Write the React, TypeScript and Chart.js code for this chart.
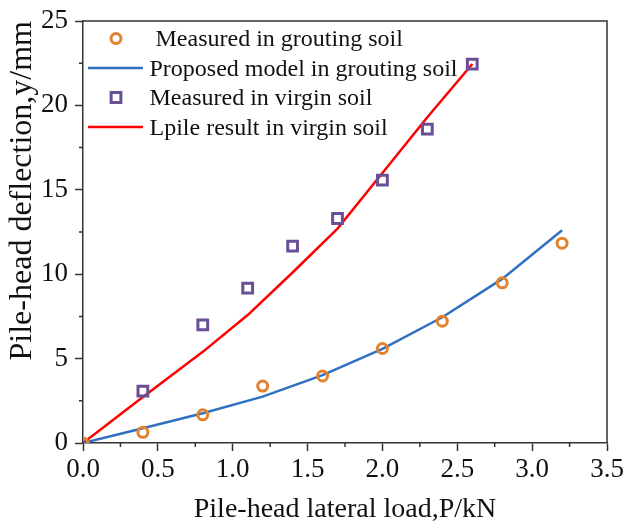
import React, { useEffect, useRef } from 'react';
import { Chart, registerables } from 'chart.js';

Chart.register(...registerables);

// ---- data ----
const groutLoad = [0, 0.4, 0.8, 1.2, 1.6, 2.0, 2.4, 2.8, 3.2];
const groutMeasured = [0, 0.63, 1.67, 3.37, 3.97, 5.6, 7.22, 9.49, 11.84];
const groutModel = [0, 0.87, 1.76, 2.75, 4.02, 5.57, 7.45, 9.72, 12.6];
const virginLoad = [0.4, 0.8, 1.1, 1.4, 1.7, 2.0, 2.3, 2.6];
const virginMeasured = [3.07, 7.0, 9.18, 11.66, 13.3, 15.58, 18.6, 22.45];
const lpileLoad = [0, 0.4, 0.8, 1.1, 1.4, 1.7, 2.0, 2.3, 2.6];
const lpileResult = [0, 2.72, 5.4, 7.58, 10.1, 12.7, 16.0, 19.3, 22.45];
const seriesLabels = [
  ' Measured in grouting soil',
  'Proposed model in grouting soil',
  'Measured in virgin soil',
  'Lpile result in virgin soil',
];
const xMinorTicks = [0.25, 0.75, 1.25, 1.75, 2.25, 2.75, 3.25];
const yMinorTicks = [2.5, 7.5, 12.5, 17.5, 22.5];
const xTitle = 'Pile-head lateral load,P/kN';
const yTitle = 'Pile-head deflection,y/mm';

const FONT = '"Liberation Serif", "Times New Roman", serif';
const AXIS = '#333333';
const ORANGE = '#E0822F';
const BLUE = '#3070C0';
const PURPLE = '#6A4E96';
const RED = '#FF0000';

const pts = (xs: number[], ys: number[]) => xs.map((x, i) => ({ x, y: ys[i] }));

const framePlugin = {
  id: 'frameAndMinor',
  afterDraw(chart: any) {
    const { ctx, chartArea } = chart;
    const { left, right, top, bottom } = chartArea;
    const xs = chart.scales.x;
    const ys = chart.scales.y;
    ctx.save();
    ctx.strokeStyle = AXIS;
    ctx.lineWidth = 1.5;
    ctx.beginPath();
    ctx.moveTo(left, top);
    ctx.lineTo(right, top);
    ctx.lineTo(right, bottom);
    ctx.stroke();
    ctx.beginPath();
    for (const v of xMinorTicks) {
      const px = xs.getPixelForValue(v);
      ctx.moveTo(px, bottom);
      ctx.lineTo(px, bottom + 4);
    }
    for (const v of yMinorTicks) {
      const py = ys.getPixelForValue(v);
      ctx.moveTo(left, py);
      ctx.lineTo(left - 4, py);
    }
    ctx.stroke();
    ctx.restore();
  },
};

const legendPlugin = {
  id: 'insideLegend',
  afterDraw(chart: any) {
    const { ctx, chartArea } = chart;
    const { left, top } = chartArea;
    ctx.save();
    chart.data.datasets.forEach((ds: any, i: number) => {
      const cy = top + 17.5 + i * 29.5;
      const mx = left + 33;
      if (ds.showLine === false) {
        ctx.strokeStyle = ds.pointBorderColor;
        ctx.lineWidth = ds.pointBorderWidth;
        ctx.beginPath();
        if (ds.pointStyle === 'rect') {
          const s = Math.SQRT1_2 * ds.pointRadius;
          ctx.rect(mx - s, cy - s, 2 * s, 2 * s);
        } else {
          ctx.arc(mx, cy, ds.pointRadius, 0, Math.PI * 2);
        }
        ctx.stroke();
      } else {
        ctx.strokeStyle = ds.borderColor;
        ctx.lineWidth = ds.borderWidth;
        ctx.beginPath();
        ctx.moveTo(left + 5, cy);
        ctx.lineTo(left + 60, cy);
        ctx.stroke();
      }
      ctx.fillStyle = '#111';
      ctx.font = `24px ${FONT}`;
      ctx.textAlign = 'left';
      ctx.textBaseline = 'alphabetic';
      ctx.fillText(ds.label, left + 66.5, cy + 7.5);
    });
    ctx.restore();
  },
};

export default function App() {
  const ref = useRef<HTMLCanvasElement | null>(null);
  useEffect(() => {
    document.body.style.margin = '0';
    if (!ref.current) return;
    const chart = new Chart(ref.current, {
      type: 'line',
      data: {
        datasets: [
          {
            label: seriesLabels[0],
            data: pts(groutLoad, groutMeasured),
            showLine: false,
            pointStyle: 'circle',
            pointRadius: 5,
            pointBorderWidth: 3,
            pointBorderColor: ORANGE,
            pointBackgroundColor: 'rgba(0,0,0,0)',
            borderColor: ORANGE,
          },
          {
            label: seriesLabels[1],
            data: pts(groutLoad, groutModel),
            borderColor: BLUE,
            borderWidth: 2.5,
            pointRadius: 0,
            tension: 0,
          },
          {
            label: seriesLabels[2],
            data: pts(virginLoad, virginMeasured),
            showLine: false,
            pointStyle: 'rect',
            pointRadius: 6.9,
            pointBorderWidth: 3,
            pointBorderColor: PURPLE,
            pointBackgroundColor: 'rgba(0,0,0,0)',
            borderColor: PURPLE,
          },
          {
            label: seriesLabels[3],
            data: pts(lpileLoad, lpileResult),
            borderColor: RED,
            borderWidth: 2.5,
            pointRadius: 0,
            tension: 0,
          },
        ] as any,
      },
      options: {
        responsive: false,
        animation: false,
        layout: { padding: { top: 21, right: 19, left: 0, bottom: 0 } },
        plugins: { legend: { display: false }, tooltip: { enabled: false } },
        scales: {
          x: {
            type: 'linear',
            min: 0,
            max: 3.5,
            ticks: {
              stepSize: 0.5,
              callback: (v: any) => Number(v).toFixed(1),
              font: { family: FONT, size: 27 },
              color: '#111',
              padding: 3,
              maxRotation: 0,
            },
            grid: {
              display: true,
              drawOnChartArea: false,
              drawTicks: true,
              tickLength: 8,
              tickWidth: 1.5,
              tickColor: AXIS,
            },
            border: { display: true, color: AXIS, width: 1.5 },
            title: {
              display: true,
              text: xTitle,
              font: { family: FONT, size: 28 },
              color: '#111',
              padding: { top: 0, bottom: 2 },
            },
            afterFit: (s: any) => {
              s.height = 85;
              s.paddingLeft = 0;
              s.paddingRight = 0;
            },
          },
          y: {
            type: 'linear',
            min: 0,
            max: 25,
            ticks: {
              stepSize: 5,
              font: { family: FONT, size: 27 },
              color: '#111',
              padding: 7,
            },
            grid: {
              display: true,
              drawOnChartArea: false,
              drawTicks: true,
              tickLength: 8,
              tickWidth: 1.5,
              tickColor: AXIS,
            },
            border: { display: true, color: AXIS, width: 1.5 },
            title: {
              display: true,
              text: yTitle,
              align: 'end',
              font: { family: FONT, size: 32 },
              color: '#111',
              padding: { top: 3, bottom: 0 },
            },
            afterFit: (s: any) => {
              s.width = 83;
              s.paddingTop = 0;
              s.paddingBottom = 0;
            },
          },
        },
      } as any,
      plugins: [framePlugin, legendPlugin],
    });
    return () => chart.destroy();
  }, []);
  return (
    <div style={{ width: 626, height: 528 }}>
      <canvas ref={ref} width={626} height={528} />
    </div>
  );
}
